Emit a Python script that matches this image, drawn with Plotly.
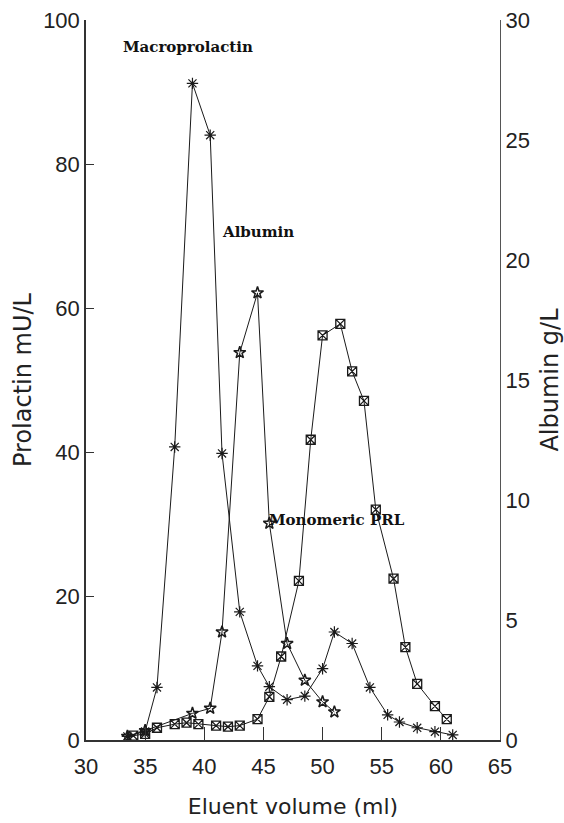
import plotly.graph_objects as go

# Prolactin (asterisks), left axis, mU/L
prl_volume = [33.5, 35, 36, 37.5, 39, 40.5, 41.5, 43, 44.5, 45.5, 47, 48.5, 50, 51, 52.5, 54, 55.5, 56.5, 58, 59.5, 61]
prl_mu_l = [0.5, 1.2, 7.3, 40.7, 91.2, 84.0, 39.8, 17.8, 10.3, 7.4, 5.6, 6.1, 9.9, 15.0, 13.4, 7.3, 3.5, 2.5, 1.7, 1.15, 0.7]

# Albumin (stars), right axis, g/L
alb_volume = [33.5, 35, 39, 40.5, 41.5, 43, 44.5, 45.5, 47, 48.5, 50, 51]
alb_g_l = [0.15, 0.39, 1.11, 1.32, 4.5, 16.14, 18.63, 9.03, 4.02, 2.49, 1.59, 1.17]

# Second prolactin profile (boxed crosses), left axis, mU/L
mono_volume = [34, 35, 36, 37.5, 38.5, 39.5, 41, 42, 43, 44.5, 45.5, 46.5, 48, 49, 50, 51.5, 52.5, 53.5, 54.5, 56, 57, 58, 59.5, 60.5]
mono_mu_l = [0.6, 0.85, 1.7, 2.2, 2.4, 2.2, 2.0, 1.85, 2.0, 2.9, 6.0, 11.6, 22.1, 41.7, 56.2, 57.8, 51.2, 47.1, 32.0, 22.4, 12.9, 7.8, 4.7, 2.9]

x_ticks = [30, 35, 40, 45, 50, 55, 60, 65]
y_ticks = [0, 20, 40, 60, 80, 100]
y2_ticks = [0, 5, 10, 15, 20, 25, 30]

labels = ["Macroprolactin", "Albumin", "Monomeric PRL"]
label_x = [38.6, 44.5, 51.2]
label_y = [96.3, 70.6, 30.6]

fig = go.Figure()
fig.add_trace(go.Scatter(
    x=prl_volume, y=prl_mu_l, mode="lines+markers", name="Prolactin",
    line=dict(color="#1a1a1a", width=1),
    marker=dict(symbol="asterisk-open", size=9.5, line=dict(color="#1a1a1a", width=1.2)),
))
fig.add_trace(go.Scatter(
    x=mono_volume, y=mono_mu_l, mode="lines+markers", name="Monomeric PRL",
    line=dict(color="#1a1a1a", width=1),
    marker=dict(symbol="square-x-open", size=9, color="#1a1a1a", line=dict(color="#1a1a1a", width=1.3)),
))
fig.add_trace(go.Scatter(
    x=alb_volume, y=alb_g_l, mode="lines+markers", name="Albumin", yaxis="y2",
    line=dict(color="#1a1a1a", width=1),
    marker=dict(symbol="star-open", size=9, color="#1a1a1a", line=dict(color="#1a1a1a", width=1.5)),
))

for t, lx, ly in zip(labels, label_x, label_y):
    fig.add_annotation(x=lx, y=ly, xref="x", yref="y", text="<b>" + t + "</b>",
                       showarrow=False,
                       font=dict(family="DejaVu Serif", size=15, color="#111"))

axis_font = dict(family="Liberation Sans", size=22, color="#222")
title_font = dict(family="DejaVu Sans", size=22, color="#222")
ytitle_font = dict(family="DejaVu Sans", size=24, color="#222")

fig.update_layout(
    width=564, height=823, autosize=False,
    margin=dict(l=85.5, r=63.5, t=20, b=83, autoexpand=False),
    paper_bgcolor="white", plot_bgcolor="white",
    showlegend=False,
    xaxis=dict(
        range=[30, 65], tickvals=x_ticks, ticks="inside", ticklen=13, tickwidth=1,
        tickcolor="#333", showline=True, linecolor="#333", linewidth=1.5,
        showgrid=False, zeroline=False, tickfont=axis_font, automargin=False,
        ticklabelstandoff=6,
        title=dict(text="Eluent volume (ml)", font=title_font, standoff=20),
    ),
    yaxis=dict(
        range=[0, 100], tickvals=y_ticks, ticks="inside", ticklen=8, tickwidth=1,
        tickcolor="#333", showline=True, linecolor="#333", linewidth=1.5,
        showgrid=False, zeroline=False, tickfont=axis_font, automargin=False,
        title=dict(text="Prolactin mU/L", font=ytitle_font, standoff=5),
    ),
    yaxis2=dict(
        range=[0, 30], tickvals=y2_ticks, overlaying="y", side="right", ticks="",
        showline=True, linecolor="#555", linewidth=1.2,
        showgrid=False, zeroline=False, tickfont=axis_font, automargin=False,
        title=dict(text="Albumin g/L", font=ytitle_font, standoff=12),
    ),
)

fig.write_html(
    "out.html",
    config={"displayModeBar": False, "responsive": False},
    post_script="document.body.style.margin='0';document.body.style.overflow='hidden';",
)
